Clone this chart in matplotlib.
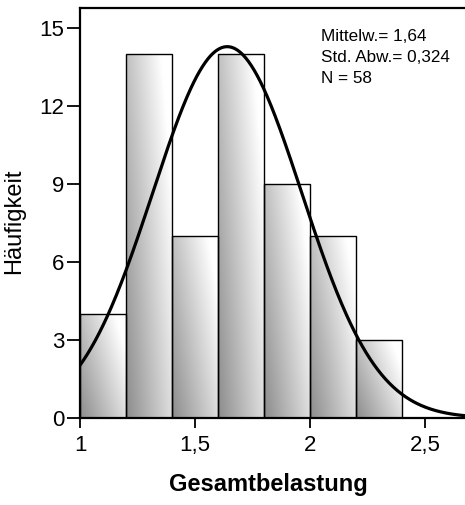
import numpy as np
import matplotlib
matplotlib.use("Agg")
import matplotlib.pyplot as plt
from matplotlib.patches import Rectangle

plt.rcParams['font.family'] = ['Liberation Sans', 'DejaVu Sans']

# --- data ---
bin_edges = [1.0, 1.2, 1.4, 1.6, 1.8, 2.0, 2.2, 2.4]
counts = [4, 14, 7, 14, 9, 7, 3]
mean = 1.64
std = 0.324
n = 58
x_ticks = [1.0, 1.5, 2.0, 2.5]
x_ticklabels = ["1", "1,5", "2", "2,5"]
y_ticks = [0, 3, 6, 9, 12, 15]
stats_lines = ["Mittelw.= 1,64", "Std. Abw.= 0,324", "N = 58"]

W, H = 465, 505
fig = plt.figure(figsize=(W / 100, H / 100), dpi=100)
ax = fig.add_axes([80 / W, 1 - 418 / H, 385 / W, 410 / H])

# gradient bars: dark bottom-left -> white top-right
u, v = np.meshgrid(np.linspace(0, 1, 64), np.linspace(0, 1, 64))
shade = 0.55 + 0.45 * np.clip(0.7 * u + 0.45 * v, 0, 1)
for x0, x1, c in zip(bin_edges[:-1], bin_edges[1:], counts):
    rect = Rectangle((x0, 0), x1 - x0, c, facecolor="none",
                     edgecolor="black", linewidth=1.0, zorder=3)
    ax.add_patch(rect)
    im = ax.imshow(shade, cmap="gray", vmin=0, vmax=1, origin="lower",
                   extent=(x0, x1, 0, c), aspect="auto", zorder=2,
                   interpolation="bilinear")
    im.set_clip_path(rect)

# normal curve
xs = np.linspace(1.0, 2.7, 400)
binw = bin_edges[1] - bin_edges[0]
ys = n * binw / (std * np.sqrt(2 * np.pi)) * np.exp(-0.5 * ((xs - mean) / std) ** 2)
ax.plot(xs, ys, color="black", linewidth=2.3, zorder=4)

ax.set_xlim(1.0, 1 + 385 / 230)
ax.set_ylim(0, 15.77)
ax.set_xticks(x_ticks)
ax.set_xticklabels(x_ticklabels)
ax.set_yticks(y_ticks)
ax.tick_params(direction="out", width=1.3, labelsize=16)
ax.tick_params(axis="y", length=9.4, pad=2)
ax.tick_params(axis="x", length=7.5, pad=5)
for s in ["left", "bottom", "top"]:
    ax.spines[s].set_linewidth(1.6)
ax.spines["right"].set_visible(False)

fig.text(14 / W, 1 - 221 / H, "Häufigkeit", fontsize=17, rotation=90,
         ha="center", va="center")
fig.text(268 / W, 1 - 491 / H, "Gesamtbelastung", fontsize=17,
         fontweight="bold", ha="center", va="baseline")

for i, line in enumerate(stats_lines):
    fig.text(321 / W, 1 - (41 + 21 * i) / H, line, fontsize=12.3,
             ha="left", va="baseline")

fig.savefig("out.png", dpi=100)
